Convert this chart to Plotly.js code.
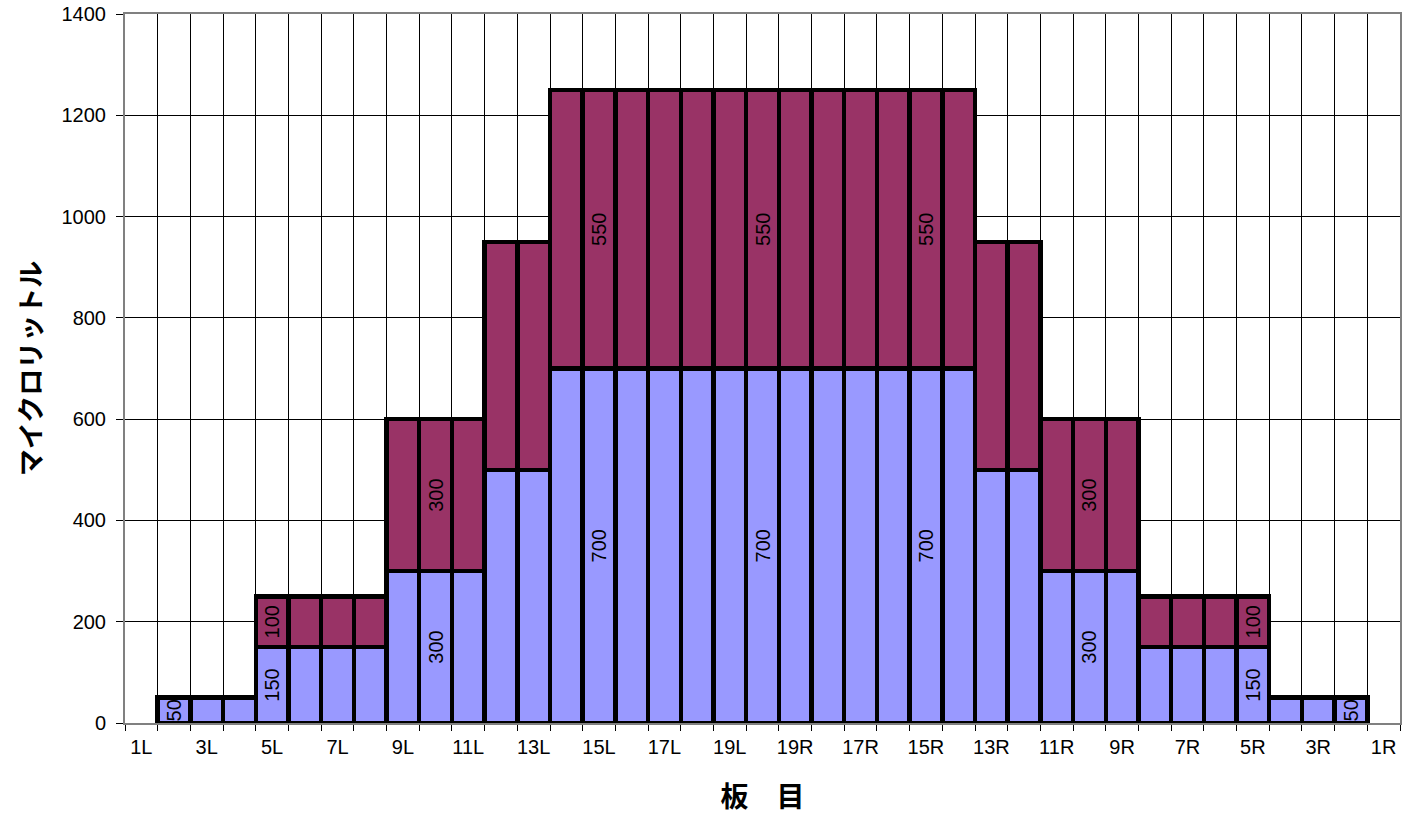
<!DOCTYPE html>
<html>
<head>
<meta charset="utf-8">
<script src="https://cdn.plot.ly/plotly-3.0.1.min.js"></script>
<style>html,body{margin:0;padding:0;background:#fff;}#chart{width:1404px;height:818px;}</style>
</head>
<body>
<div id="chart"></div>
<script>
// Categories (板目)
const categories = ['1L','2L','3L','4L','5L','6L','7L','8L','9L','10L','11L','12L','13L','14L','15L','16L','17L','18L','19L','20',
  '19R','18R','17R','16R','15R','14R','13R','12R','11R','10R','9R','8R','7R','6R','5R','4R','3R','2R','1R'];
// Lower series (blue)
const lowerValues = [null,50,50,50,150,150,150,150,300,300,300,500,500,700,700,700,700,700,700,700,
  700,700,700,700,700,700,500,500,300,300,300,150,150,150,150,50,50,50,null];
// Upper series (purple)
const upperValues = [null,null,null,null,100,100,100,100,300,300,300,450,450,550,550,550,550,550,550,550,
  550,550,550,550,550,550,450,450,300,300,300,100,100,100,100,null,null,null,null];
// Which bars carry a data label
const lowerLabels = ['','50','','','150','','','','','300','','','','','700','','','','','700',
  '','','','','700','','','','','300','','','','','150','','','50',''];
const upperLabels = ['','','','','100','','','','','300','','','','','550','','','','','550',
  '','','','','550','','','','','300','','','','','100','','','',''];
const tickLabels = categories.map((c,i) => i % 2 === 0 ? c : '');

const lineStyle = {color:'#000', width:4.5};
const textFont = {family:'Liberation Sans, Arial, sans-serif', size:20, color:'#000'};

const traces = [
  {type:'bar', x:categories, y:lowerValues, text:lowerLabels, textposition:'inside',
   insidetextanchor:'middle', textangle:-90, constraintext:'none', insidetextfont:textFont,
   marker:{color:'#9999FF', line:lineStyle}, hoverinfo:'none', cliponaxis:false},
  {type:'bar', x:categories, y:upperValues, text:upperLabels, textposition:'inside',
   insidetextanchor:'middle', textangle:-90, constraintext:'none', insidetextfont:textFont,
   marker:{color:'#993366', line:lineStyle}, hoverinfo:'none', cliponaxis:false}
];

const layout = {
  width:1404, height:818,
  margin:{l:125, r:4, t:14, b:95},
  paper_bgcolor:'#fff', plot_bgcolor:'#fff',
  barmode:'stack', bargap:0,
  showlegend:false,
  font:{family:'Liberation Sans, Arial, sans-serif', size:20, color:'#000'},
  xaxis:{
    type:'category', range:[-0.5, categories.length-0.5],
    tickvals:categories, ticktext:tickLabels, tickson:'boundaries',
    ticks:'outside', ticklen:6, tickcolor:'#000', tickangle:0, ticklabelstandoff:5,
    showgrid:true, gridcolor:'#000', gridwidth:1,
    showline:true, linecolor:'#808080', linewidth:2, mirror:true,
    zeroline:false,
    tickfont:{size:20},
    title:{text:'板　目', standoff:30, font:{family:'Noto Sans CJK JP, sans-serif', size:28, weight:'bold', color:'#000'}}
  },
  yaxis:{
    range:[0,1400], dtick:200, ticks:'outside', ticklen:7, tickcolor:'#000', ticklabelstandoff:6,
    showgrid:true, gridcolor:'#000', gridwidth:1,
    showline:true, linecolor:'#808080', linewidth:2, mirror:true,
    zeroline:false,
    tickfont:{size:20},
    title:{text:'マイクロリットル', standoff:12, font:{family:'Noto Sans CJK JP, sans-serif', size:27, weight:'bold', color:'#000'}}
  }
};

Plotly.newPlot('chart', traces, layout, {displayModeBar:false, staticPlot:true});
</script>
</body>
</html>
